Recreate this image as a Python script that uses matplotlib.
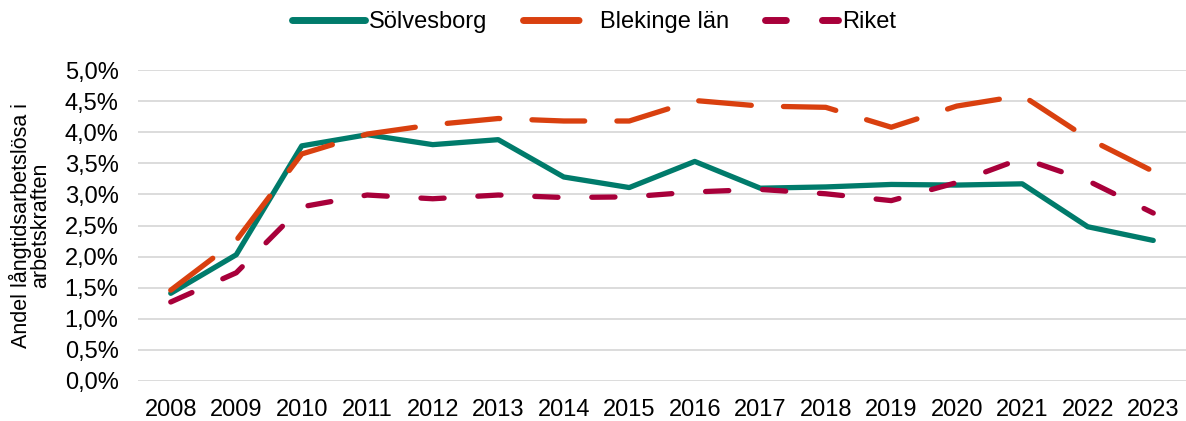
import matplotlib
matplotlib.use("Agg")
import matplotlib.pyplot as plt
from matplotlib.ticker import FuncFormatter

years = list(range(2008, 2024))
solvesborg = [1.41, 2.03, 3.78, 3.96, 3.80, 3.88, 3.28, 3.11, 3.53, 3.10, 3.12, 3.16, 3.15, 3.17, 2.48, 2.26]
blekinge = [1.46, 2.26, 3.65, 3.97, 4.12, 4.22, 4.18, 4.18, 4.51, 4.42, 4.40, 4.08, 4.42, 4.59, 3.90, 3.37]
riket = [1.27, 1.74, 2.80, 2.99, 2.93, 2.99, 2.95, 2.96, 3.04, 3.08, 3.01, 2.90, 3.19, 3.58, 3.22, 2.70]

plt.rcParams["font.family"] = ["Liberation Sans", "DejaVu Sans"]

fig = plt.figure(figsize=(11.86, 4.21), dpi=100)
ax = fig.add_axes([138 / 1186, 1 - 381 / 421, 1 - 138 / 1186, (381 - 70) / 421])

x = list(range(len(years)))
ax.plot(x, solvesborg, color="#007B6B", lw=3.8, solid_capstyle="round",
        solid_joinstyle="round", label="Sölvesborg", zorder=3)
ax.plot(x, blekinge, color="#D9400F", lw=3.8, dashes=(10.0, 6.1),
        dash_capstyle="round", dash_joinstyle="round", label="Blekinge län", zorder=4)
ax.plot(x, riket, color="#A8003A", lw=3.8, dashes=(4.4, 6.4),
        dash_capstyle="round", dash_joinstyle="round", label="Riket", zorder=5)

ax.set_xlim(-0.5, len(years) - 0.5)
ax.set_ylim(0, 5.0)
ax.set_yticks([i * 0.5 for i in range(11)])
ax.yaxis.set_major_formatter(FuncFormatter(lambda v, _: f"{v:.1f}%".replace(".", ",")))
ax.set_xticks(x)
ax.set_xticklabels([str(y) for y in years])
ax.tick_params(axis="both", length=0, labelsize=17, colors="#000000")
ax.tick_params(axis="y", pad=14)
ax.tick_params(axis="x", pad=13)
ax.grid(axis="y", color="#D9D9D9", lw=1.3)
ax.set_axisbelow(True)
for s in ax.spines.values():
    s.set_visible(False)

ax.set_ylabel("Andel långtidsarbetslösa i\narbetskraften", fontsize=15.5, labelpad=10,
              linespacing=0.85)

leg = fig.legend(*ax.get_legend_handles_labels(), loc="center",
                 bbox_to_anchor=(594 / 1186, 1 - 22 / 421),
                 ncol=3, frameon=False, fontsize=17, handlelength=3.1, columnspacing=1.5,
                 handletextpad=0.17, borderpad=0, borderaxespad=0)
# legend keys are drawn thicker than the plotted lines
leg_lines = leg.get_lines()
for ln in leg_lines:
    ln.set_linewidth(5.0)
leg_lines[1].set_dashes((8, 3))
leg_lines[2].set_dashes((3, 5.2))

fig.savefig("out.png", dpi=100)
